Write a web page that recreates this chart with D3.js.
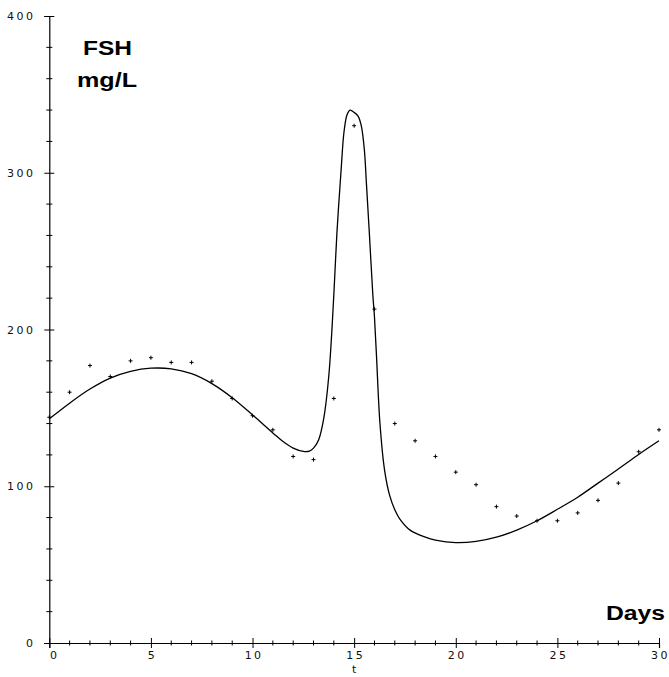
<!DOCTYPE html>
<html>
<head>
<meta charset="utf-8">
<script src="https://cdn.jsdelivr.net/npm/d3@7"></script>
<style>
  body { margin: 0; background: #fff; }
  .tick text { font-family: "DejaVu Sans", sans-serif; font-size: 11px; letter-spacing: 2.4px; fill: #111; }
  .lbl { font-family: "Liberation Sans", Arial, sans-serif; font-weight: bold; font-size: 20px; fill: #000; }
</style>
</head>
<body>
<svg id="chart" width="669" height="677"></svg>
<script>
// measured FSH, one value per day
var days = [0, 1, 2, 3, 4, 5, 6, 7, 8, 9, 10, 11, 12, 13, 14, 15, 16, 17, 18, 19, 20,
            21, 22, 23, 24, 25, 26, 27, 28, 29, 30];
var fshData = [144, 160, 177, 170, 180, 182, 179, 179, 167, 156, 145, 136, 119, 117, 156, 330, 213,
               140, 129, 119, 109, 101, 87, 81, 78, 78, 83, 91, 102, 122, 136];

// model curve
var curveT = [0, 1, 2, 3, 4, 5, 6, 7, 8, 9, 10, 11, 11.5, 12, 12.5, 12.8, 13, 13.25, 13.5, 13.75,
              14, 14.15, 14.37, 14.5, 14.65, 14.8, 15, 15.2, 15.35, 15.5, 15.6, 15.75, 15.92, 16,
              16.1, 16.27, 16.5, 16.75, 17, 17.25, 17.75, 18.5, 19, 20, 21, 22, 23, 24, 25, 26,
              27, 28, 29, 30];
var curveV = [143, 153, 162, 169, 173.3, 175.3, 174.9, 171.8, 165.5, 156.5, 145.5, 134, 128.5, 124.3,
              122.2, 122.4, 124.3, 129.5, 143, 170, 222, 261, 304, 326, 337, 340, 338.5, 336, 330, 315,
              294, 261, 222, 208, 183, 140, 110, 94, 85, 79, 72, 67.5, 65.6, 64, 64.8, 67.5, 72, 78,
              85.3, 93, 102, 111, 120.3, 129];

var xMajor = [0, 5, 10, 15, 20, 25, 30];
var yMajor = [0, 100, 200, 300, 400];

var svg = d3.select('#chart');

var x = d3.scaleLinear().domain([0, 30]).range([49.3, 659]);
var y = d3.scaleLinear().domain([0, 400]).range([643, 16]);

// minor ticks first, then major axes on top
var xMinor = d3.range(0, 31).filter(d => d % 5 !== 0);
var yMinor = d3.range(0, 401, 20).filter(d => d % 100 !== 0);

svg.append('g')
    .attr('transform', 'translate(0,' + y(0) + ')')
    .selectAll('line')
    .data(xMinor)
    .enter().append('line')
    .attr('x1', d => x(d)).attr('x2', d => x(d))
    .attr('y1', -2.5).attr('y2', 2.5)
    .attr('stroke', '#000');

svg.append('g')
    .attr('transform', 'translate(' + x(0) + ',0)')
    .selectAll('line')
    .data(yMinor)
    .enter().append('line')
    .attr('y1', d => y(d)).attr('y2', d => y(d))
    .attr('x1', -3).attr('x2', 3)
    .attr('stroke', '#000');

var xAxis = svg.append('g')
    .attr('transform', 'translate(0,' + y(0) + ')')
    .call(d3.axisBottom(x).tickValues(xMajor).tickSizeOuter(0).tickSize(5));
xAxis.selectAll('.tick line').attr('y1', -5).attr('y2', 5).attr('stroke', '#000');
xAxis.selectAll('.tick text')
    .attr('y', 8)
    .attr('dy', '0.71em')
    .attr('dx', d => d === 0 ? 5 : 1);

var yAxis = svg.append('g')
    .attr('transform', 'translate(' + x(0) + ',0)')
    .call(d3.axisLeft(y).tickValues(yMajor).tickSizeOuter(0).tickSize(5).tickPadding(9));
yAxis.selectAll('.tick line').attr('x1', -5).attr('x2', 5).attr('stroke', '#000');

svg.selectAll('.domain').attr('stroke', '#000').attr('stroke-width', 1.2);
svg.selectAll('.tick text').attr('font-family', null).attr('font-size', null);

// model curve
var line = d3.line()
    .x((d, i) => x(curveT[i]))
    .y(d => y(d))
    .curve(d3.curveCatmullRom.alpha(0.5));

svg.append('path')
    .datum(curveV)
    .attr('d', line)
    .attr('fill', 'none')
    .attr('stroke', '#000')
    .attr('stroke-width', 1.3);

// data points as small crosses
svg.append('g')
    .selectAll('path')
    .data(fshData)
    .enter().append('path')
    .attr('d', (d, i) => {
        var cx = x(days[i]), cy = y(d);
        return 'M' + (cx - 2) + ',' + cy + 'H' + (cx + 2) + 'M' + cx + ',' + (cy - 2) + 'V' + (cy + 2);
    })
    .attr('stroke', '#000')
    .attr('stroke-width', 1);

// labels
svg.append('text').attr('class', 'lbl')
    .attr('x', 83).attr('y', 55)
    .attr('textLength', 49).attr('lengthAdjust', 'spacingAndGlyphs')
    .text('FSH');
svg.append('text').attr('class', 'lbl')
    .attr('x', 77).attr('y', 87)
    .attr('textLength', 60).attr('lengthAdjust', 'spacingAndGlyphs')
    .text('mg/L');
svg.append('text').attr('class', 'lbl')
    .attr('x', 606).attr('y', 620)
    .attr('textLength', 59).attr('lengthAdjust', 'spacingAndGlyphs')
    .text('Days');

svg.append('text')
    .attr('x', x(15)).attr('y', 673)
    .attr('text-anchor', 'middle')
    .style('font-family', '"DejaVu Sans", sans-serif')
    .style('font-size', '11px')
    .style('fill', '#111')
    .text('t');
</script>
</body>
</html>
